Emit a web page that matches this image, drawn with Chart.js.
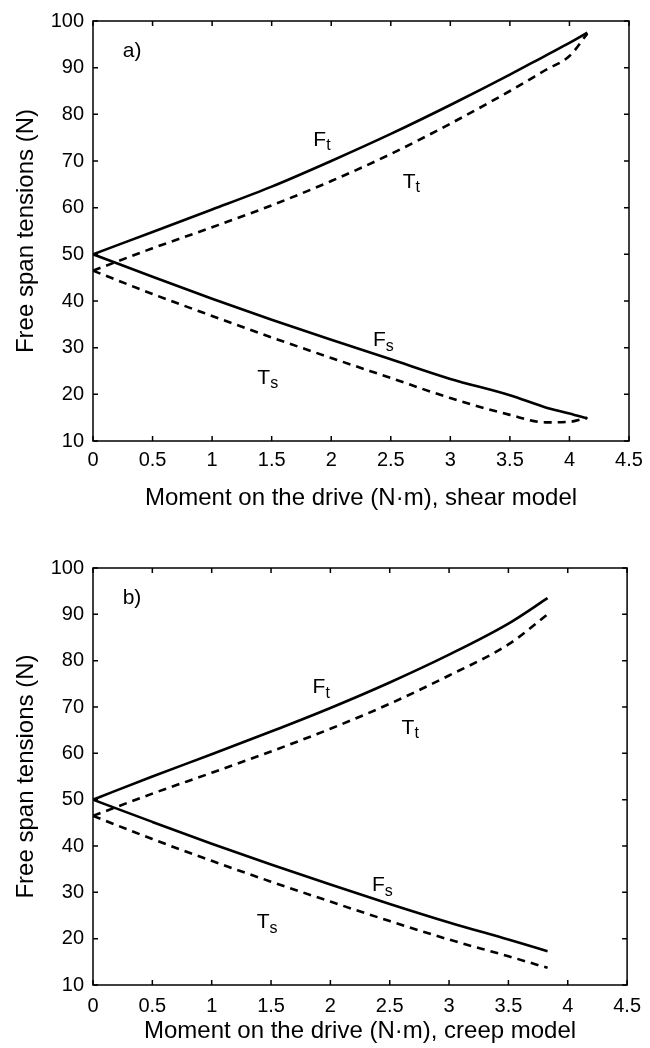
<!DOCTYPE html>
<html>
<head>
<meta charset="utf-8">
<script src="https://cdn.jsdelivr.net/npm/chart.js@4/dist/chart.umd.min.js"></script>
<style>
  body { margin: 0; background: #fff; }
  .box { position: absolute; left: 0; width: 650px; }
  #boxA { top: 0; height: 515px; }
  #boxB { top: 547px; height: 501px; }
</style>
</head>
<body>
<div class="box" id="boxA"><canvas id="chartA"></canvas></div>
<div class="box" id="boxB"><canvas id="chartB"></canvas></div>
<script>
// panel a) shear model
var momentA = [0, 0.5, 1, 1.5, 2, 2.5, 3, 3.5, 3.8, 4, 4.15];
var ftA = [50, 54.8, 59.6, 64.5, 70, 75.8, 82, 88.5, 92.6, 95.3, 97.5];
var ttA = [46.5, 51.3, 55.8, 60.5, 65.7, 71.5, 78, 85, 89.5, 92.5, 97.3];
var fsA = [50, 45.2, 40.5, 36, 31.7, 27.5, 23.3, 19.8, 17.2, 15.9, 14.8];
var tsA = [46.5, 41.5, 36.8, 32.2, 27.8, 23.5, 19.2, 15.6, 14, 14.1, 15];

// panel b) creep model
var momentB = [0, 0.5, 1, 1.5, 2, 2.5, 3, 3.5, 3.83];
var ftB = [50, 55, 59.8, 64.7, 69.8, 75.3, 81.3, 88, 93.5];
var ttB = [46.5, 51.3, 55.8, 60.4, 65.3, 70.7, 76.8, 83.5, 90];
var fsB = [50, 45.2, 40.5, 36, 31.7, 27.5, 23.5, 19.8, 17.3];
var tsB = [46.5, 41.5, 36.8, 32.3, 28, 23.8, 19.8, 16.2, 13.7];

var xTicks = [0, 0.5, 1, 1.5, 2, 2.5, 3, 3.5, 4, 4.5];
var yTicks = [10, 20, 30, 40, 50, 60, 70, 80, 90, 100];

var FONT = '"Liberation Sans", Arial, sans-serif';

function pts(xs, ys) {
  return xs.map(function (x, i) { return { x: x, y: ys[i] }; });
}

function line(data, dashed) {
  return {
    data: data,
    borderColor: '#000',
    borderWidth: 2.6,
    borderDash: dashed ? [8, 6] : [],
    pointRadius: 0,
    fill: false,
    cubicInterpolationMode: 'monotone'
  };
}

// box + inward ticks, like the original plot
var framePlugin = {
  id: 'frame',
  afterDraw: function (chart) {
    var c = chart.ctx, a = chart.chartArea;
    var xs = chart.scales.x, ys = chart.scales.y;
    c.save();
    c.strokeStyle = '#000';
    c.lineWidth = 1.5;
    c.strokeRect(a.left, a.top, a.right - a.left, a.bottom - a.top);
    c.beginPath();
    xTicks.forEach(function (v) {
      var px = xs.getPixelForValue(v);
      c.moveTo(px, a.bottom); c.lineTo(px, a.bottom - 5);
      c.moveTo(px, a.top); c.lineTo(px, a.top + 5);
    });
    yTicks.forEach(function (v) {
      var py = ys.getPixelForValue(v);
      c.moveTo(a.left, py); c.lineTo(a.left + 5, py);
      c.moveTo(a.right, py); c.lineTo(a.right - 5, py);
    });
    c.stroke();

    // curve names and panel letter
    var notes = chart.options.plugins.frame.notes;
    c.fillStyle = '#000';
    c.textBaseline = 'middle';
    notes.forEach(function (n) {
      var px = xs.getPixelForValue(n.x), py = ys.getPixelForValue(n.y);
      c.font = '21px ' + FONT;
      c.textAlign = 'left';
      c.fillText(n.text, px, py);
      if (n.sub) {
        var w = c.measureText(n.text).width;
        c.font = '16px ' + FONT;
        c.fillText(n.sub, px + w, py + 6);
      }
    });
    c.restore();
  }
};

function makeChart(id, xs, ft, tt, fs, ts, xTitle, notes, axisH, tickPad) {
  var ctx = document.getElementById(id).getContext('2d');
  return new Chart(ctx, {
    type: 'line',
    data: {
      datasets: [
        line(pts(xs, ft), false),
        line(pts(xs, tt), true),
        line(pts(xs, fs), false),
        line(pts(xs, ts), true)
      ]
    },
    options: {
      responsive: true,
      maintainAspectRatio: false,
      animation: false,
      layout: { padding: { top: 19, right: 21, left: 0, bottom: 0 } },
      plugins: {
        legend: { display: false },
        tooltip: { enabled: false },
        frame: { notes: notes }
      },
      scales: {
        x: {
          type: 'linear',
          min: 0, max: 4.5,
          afterFit: function (s) { s.height = axisH; },
          afterBuildTicks: function (s) { s.ticks = xTicks.map(function (v) { return { value: v }; }); },
          grid: { display: false, drawTicks: false },
          border: { display: false },
          ticks: {
            color: '#000', padding: tickPad,
            font: { family: FONT, size: 20 },
            callback: function (v) { return String(v); }
          },
          title: {
            display: true, text: xTitle, color: '#000',
            font: { family: FONT, size: 24 },
            padding: { top: 0, bottom: 2 }
          }
        },
        y: {
          min: 10, max: 100,
          afterFit: function (s) { s.width = 93; },
          afterBuildTicks: function (s) { s.ticks = yTicks.map(function (v) { return { value: v }; }); },
          grid: { display: false, drawTicks: false },
          border: { display: false },
          ticks: {
            color: '#000', padding: 9,
            font: { family: FONT, size: 20 }
          },
          title: {
            display: true, text: 'Free span tensions (N)', color: '#000',
            font: { family: FONT, size: 24 },
            padding: { top: 12, bottom: 0 }
          }
        }
      }
    },
    plugins: [framePlugin]
  });
}

makeChart('chartA', momentA, ftA, ttA, fsA, tsA,
  'Moment on the drive (N\u00b7m), shear model',
  [
    { text: 'a)', x: 0.25, y: 93.5 },
    { text: 'F', sub: 't', x: 1.85, y: 74.5 },
    { text: 'T', sub: 't', x: 2.6, y: 65.5 },
    { text: 'F', sub: 's', x: 2.35, y: 31.5 },
    { text: 'T', sub: 's', x: 1.38, y: 23.5 }
  ], 74, 7);

makeChart('chartB', momentB, ftB, ttB, fsB, tsB,
  'Moment on the drive (N\u00b7m), creep model',
  [
    { text: 'b)', x: 0.25, y: 93.5 },
    { text: 'F', sub: 't', x: 1.85, y: 74.2 },
    { text: 'T', sub: 't', x: 2.6, y: 65.5 },
    { text: 'F', sub: 's', x: 2.35, y: 31.5 },
    { text: 'T', sub: 's', x: 1.38, y: 23.5 }
  ], 63, 9);
</script>
</body>
</html>
